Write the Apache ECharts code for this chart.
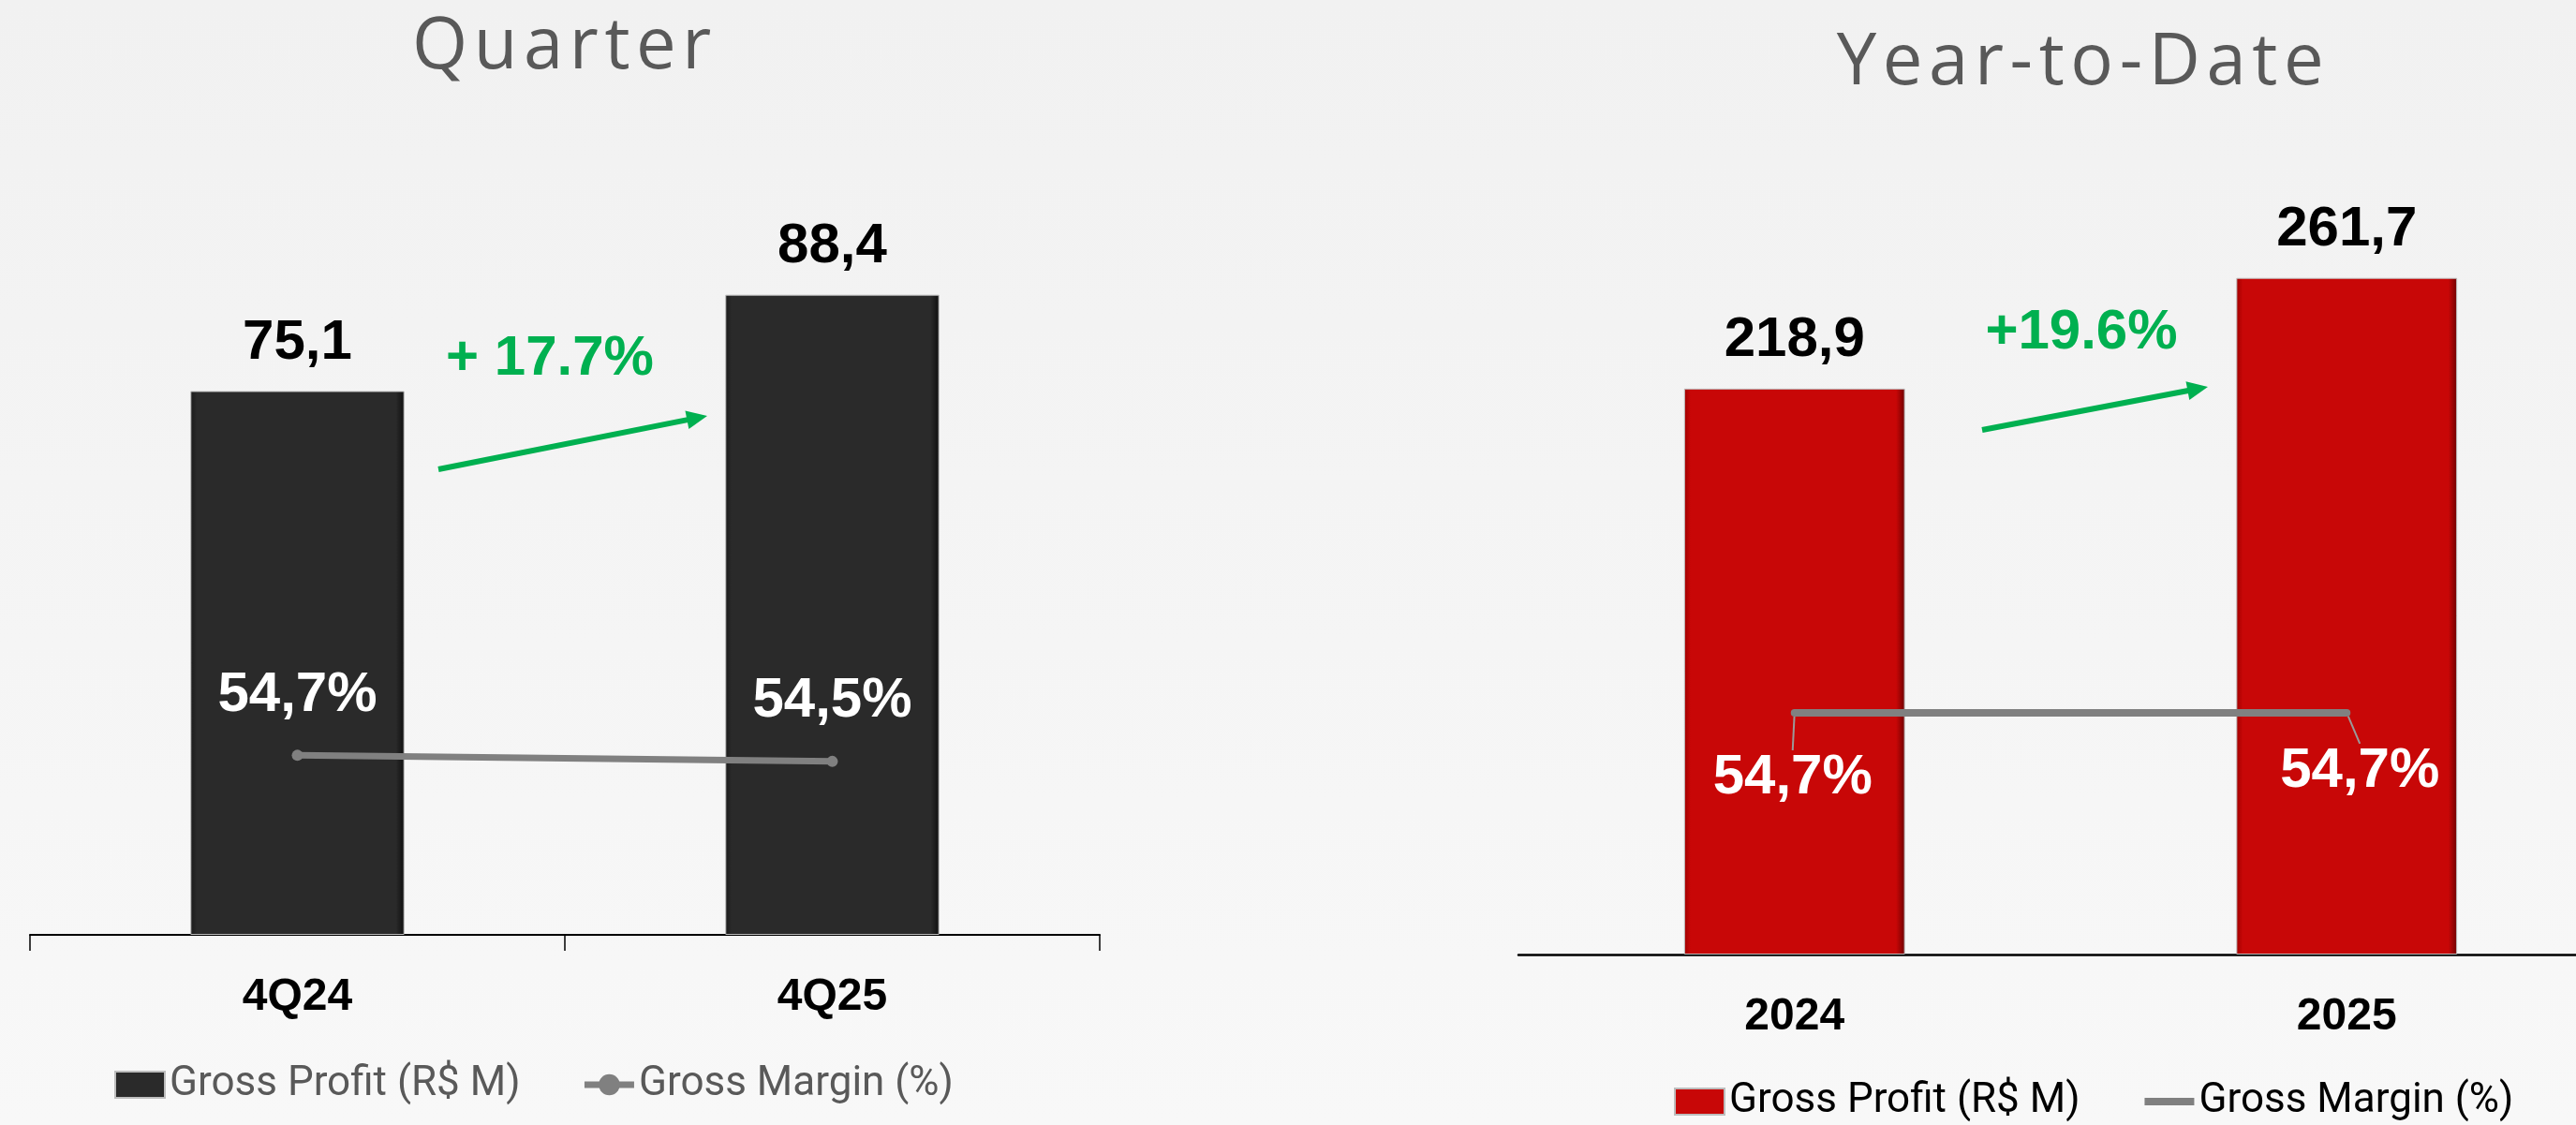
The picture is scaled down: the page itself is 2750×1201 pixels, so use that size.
<!DOCTYPE html>
<html><head><meta charset="utf-8">
<script src="https://cdn.jsdelivr.net/npm/echarts@6/dist/echarts.min.js"></script>
<style>html,body{margin:0;padding:0;} #c{width:2750px;height:1201px;background:linear-gradient(#f1f1f1,#f8f8f8);}</style>
</head><body><div id="c"></div>
<script>
// ---- data ----
const quarterCategories = ['4Q24', '4Q25'];
const quarterGrossProfit = [75.1, 88.4];
const quarterGrossMargin = [54.7, 54.5];
const ytdCategories = ['2024', '2025'];
const ytdGrossProfit = [218.9, 261.7];
const ytdGrossMargin = [54.7, 54.7];
const panelTitles = ['Quarter', 'Year-to-Date'];
const growthLabels = ['+ 17.7%', '+19.6%'];
const legendNames = ['Gross Profit (R$ M)', 'Gross Margin (%)'];

// ---- helpers ----
const FONT = '"Liberation Sans", Arial, sans-serif';
const fmt = v => v.toFixed(1).replace('.', ',');
const fmtPct = v => v.toFixed(1).replace('.', ',') + '%';
const nameMap = { q_gp: legendNames[0], q_gm: legendNames[1], y_gp: legendNames[0], y_gm: legendNames[1] };

function arrow(x1, y1, x2, y2, color) {
  const dx = x2 - x1, dy = y2 - y1, L = Math.hypot(dx, dy);
  const ux = dx / L, uy = dy / L, px = -uy, py = ux;
  const hl = 22, hw = 10;
  const bx = x2 - ux * hl, by = y2 - uy * hl;
  return {
    type: 'group', children: [
      { type: 'line', shape: { x1, y1, x2: bx + ux * 2, y2: by + uy * 2 }, style: { stroke: color, lineWidth: 6 } },
      { type: 'polygon', shape: { points: [[x2, y2], [bx + px * hw, by + py * hw], [bx - px * hw, by - py * hw]] }, style: { fill: color } }
    ]
  };
}

function barGradient(edge, main, dark) {
  return {
    type: 'linear', x: 0, y: 0, x2: 1, y2: 0,
    colorStops: [
      { offset: 0, color: edge }, { offset: 0.03, color: main },
      { offset: 0.96, color: main }, { offset: 1, color: dark }
    ]
  };
}

const catAxisLabel = { fontSize: 48, fontWeight: 'bold', color: '#000', fontFamily: FONT, margin: 43, lineHeight: 48 };
const valueLabel = { show: true, position: 'top', distance: 21, fontSize: 60, fontWeight: 'bold', color: '#000', fontFamily: FONT, lineHeight: 60, formatter: p => fmt(p.value) };
const marginLabelStyle = { show: true, fontSize: 60, fontWeight: 'bold', color: '#fff', fontFamily: FONT, lineHeight: 60, formatter: p => fmtPct(p.value) };
const titleFont = '400 76px "Open Sans"';

const chart = echarts.init(document.getElementById('c'));
chart.setOption({
  animation: false,
  backgroundColor: 'transparent',
  graphic: [
    { type: 'text', zlevel: 1, x: 603, y: 51, style: { text: panelTitles[0], font: titleFont, fill: '#595959', align: 'center', verticalAlign: 'middle' } },
    { type: 'text', zlevel: 1, x: 2224, y: 68, style: { text: panelTitles[1], font: titleFont, fill: '#595959', align: 'center', verticalAlign: 'middle' } },
    { type: 'text', x: 587, y: 383, style: { text: growthLabels[0], font: 'bold 60px "Liberation Sans"', fill: '#00B050', align: 'center', verticalAlign: 'middle' } },
    { type: 'text', x: 2222, y: 355, style: { text: growthLabels[1], font: 'bold 60px "Liberation Sans"', fill: '#00B050', align: 'center', verticalAlign: 'middle' } },
    arrow(468, 501, 755, 444, '#00B050'),
    arrow(2116, 459, 2357, 413, '#00B050')
  ],
  legend: [
    {
      left: 122, top: 1136, padding: 0, itemWidth: 53, itemHeight: 28, itemGap: 65,
      data: [{ name: 'q_gp', icon: 'rect' }, { name: 'q_gm', lineStyle: { width: 7 } }],
      formatter: n => nameMap[n],
      textStyle: { fontSize: 44, color: '#595959', fontFamily: 'Roboto', lineHeight: 44 }
    },
    {
      left: 1787, top: 1154, padding: 0, itemWidth: 53, itemHeight: 28, itemGap: 65,
      data: [{ name: 'y_gp', icon: 'rect' }, { name: 'y_gm', lineStyle: { width: 8 }, itemStyle: { opacity: 0 } }],
      formatter: n => nameMap[n],
      textStyle: { fontSize: 44, color: '#000', fontFamily: 'Roboto', lineHeight: 44 }
    }
  ],
  grid: [
    { left: 32, top: 225, width: 1142, height: 773, outerBoundsMode: 'none' },
    { left: 1621, top: 191, width: 1179, height: 828, outerBoundsMode: 'none' }
  ],
  xAxis: [
    {
      type: 'category', gridIndex: 0, data: quarterCategories,
      axisLine: { lineStyle: { color: '#000', width: 2 } },
      axisTick: { show: true, length: 17, lineStyle: { color: '#000', width: 1.5 } },
      axisLabel: catAxisLabel
    },
    {
      type: 'category', gridIndex: 1, data: ytdCategories,
      axisLine: { lineStyle: { color: '#000', width: 2.5 } },
      axisTick: { show: false },
      axisLabel: catAxisLabel
    }
  ],
  yAxis: [
    { type: 'value', gridIndex: 0, min: 0, max: 100, show: false },
    { type: 'value', gridIndex: 0, min: 48.8, max: 72.6, show: false },
    { type: 'value', gridIndex: 1, min: 0, max: 300, show: false },
    { type: 'value', gridIndex: 1, min: 0, max: 175.5, show: false }
  ],
  series: [
    {
      name: 'q_gp', type: 'bar', xAxisIndex: 0, yAxisIndex: 0, data: quarterGrossProfit, barWidth: '40%',
      itemStyle: { color: barGradient('#1a1a1a', '#2a2a2a', '#0e0e0e'), borderColor: '#bdbdbd', borderWidth: 1 },
      label: valueLabel
    },
    {
      name: 'q_gm', type: 'line', xAxisIndex: 0, yAxisIndex: 1, data: quarterGrossMargin,
      symbol: 'circle', symbolSize: 12,
      lineStyle: { color: '#808080', width: 7 }, itemStyle: { color: '#808080' },
      label: Object.assign({ position: 'top', distance: 28 }, marginLabelStyle)
    },
    {
      name: 'y_gp', type: 'bar', xAxisIndex: 1, yAxisIndex: 2, data: ytdGrossProfit, barWidth: '40%',
      itemStyle: { color: barGradient('#a00000', '#c80707', '#6e0000'), borderColor: '#bdbdbd', borderWidth: 1 },
      label: valueLabel
    },
    {
      name: 'y_gm', type: 'line', xAxisIndex: 1, yAxisIndex: 3, data: ytdGrossMargin,
      symbol: 'circle', symbolSize: 8,
      lineStyle: { color: '#808080', width: 8 }, itemStyle: { color: '#808080' },
      label: Object.assign({ position: 'bottom', distance: 5 }, marginLabelStyle),
      labelLine: { show: true, lineStyle: { color: '#9a9a9a', width: 2 } },
      labelLayout: p => (p.dataIndex === 0 ? { dx: -2, dy: 31 } : { dx: 14, dy: 24 })
    }
  ]
});

// letter-spaced titles (drawn on their own canvas layer)
try {
  const zr = chart.getZr();
  const layer = zr.painter.getLayer && zr.painter.getLayer(1);
  if (layer && layer.ctx && 'letterSpacing' in layer.ctx) {
    layer.ctx.letterSpacing = '6.6px';
    zr.painter.refresh(true);
  }
} catch (e) { /* keep default spacing */ }
</script></body></html>
